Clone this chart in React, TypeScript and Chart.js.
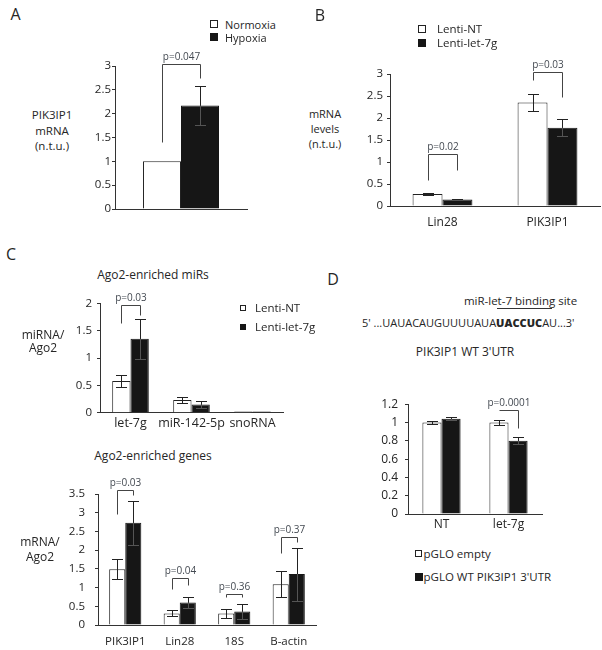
import React, { useEffect, useRef } from "react";
import { Chart, registerables } from "chart.js";

Chart.register(...registerables);

const FONT = "'Open Sans', 'Noto Sans', sans-serif";
const TEXT = "#262626";
const PCOLOR = "#444a52";
const BLACK = "#161616";

// ---------- Panel A ----------
const A_CATEGORIES = [""];
const A_NORMOXIA = [1.0];
const A_NORMOXIA_ERR = [0];
const A_HYPOXIA = [2.17];
const A_HYPOXIA_ERR = [0.41];
const A_TICKS = [0, 0.5, 1, 1.5, 2, 2.5, 3];
const A_PVALUES = [{ cat: 0, label: "p=0.047", top: 3.05, left: 1.4, right: 2.74 }];

// ---------- Panel B ----------
const B_CATEGORIES = ["Lin28", "PIK3IP1"];
const B_NT = [0.27, 2.35];
const B_NT_ERR = [0.02, 0.19];
const B_LET7G = [0.15, 1.78];
const B_LET7G_ERR = [0.02, 0.2];
const B_TICKS = [0, 0.5, 1, 1.5, 2, 2.5, 3];
const B_PVALUES = [
  { cat: 0, label: "p=0.02", top: 1.18, left: 0.59, right: 0.82 },
  { cat: 1, label: "p=0.03", top: 3.05, left: 2.86, right: 2.48 },
];

// ---------- Panel C (miRs) ----------
const C1_CATEGORIES = ["let-7g", "miR-142-5p", "snoRNA"];
const C1_NT = [0.58, 0.23, 0.02];
const C1_NT_ERR = [0.11, 0.05, 0];
const C1_LET7G = [1.35, 0.15, 0.02];
const C1_LET7G_ERR = [0.37, 0.07, 0];
const C1_TICKS = [0, 0.5, 1, 1.5, 2];
const C1_PVALUES = [{ cat: 0, label: "p=0.03", top: 1.96, left: 1.64, right: 1.79 }];

// ---------- Panel C (genes) ----------
const C2_CATEGORIES = ["PIK3IP1", "Lin28", "18S", "B-actin"];
const C2_NT = [1.49, 0.31, 0.31, 1.09];
const C2_NT_ERR = [0.27, 0.08, 0.11, 0.35];
const C2_LET7G = [2.73, 0.6, 0.36, 1.36];
const C2_LET7G_ERR = [0.59, 0.155, 0.19, 0.71];
const C2_TICKS = [0, 0.5, 1, 1.5, 2, 2.5, 3, 3.5];
const C2_PVALUES = [
  { cat: 0, label: "p=0.03", top: 3.61, left: 2.97, right: 3.48 },
  { cat: 1, label: "p=0.04", top: 1.26, left: 0.96, right: 1.07 },
  { cat: 2, label: "p=0.36", top: 0.83, left: 0.75, right: 0.75 },
  { cat: 3, label: "p=0.37", top: 2.36, left: 1.93, right: 2.23 },
];

// ---------- Panel D ----------
const D_CATEGORIES = ["NT", "let-7g"];
const D_EMPTY = [1.0, 1.0];
const D_EMPTY_ERR = [0.02, 0.025];
const D_WT = [1.04, 0.8];
const D_WT_ERR = [0.015, 0.04];
const D_TICKS = [0, 0.2, 0.4, 0.6, 0.8, 1, 1.2];
const D_PVALUES = [{ cat: 1, label: "p=0.0001", top: 1.14, left: 1.14, right: 0.935 }];

// ---------- plugins ----------
const errorBarPlugin = {
  id: "errbars",
  afterDatasetsDraw(chart: any) {
    const { ctx } = chart;
    const yS = chart.scales.y;
    const cap = 5.5;
    chart.data.datasets.forEach((ds: any, di: number) => {
      const meta = chart.getDatasetMeta(di);
      meta.data.forEach((bar: any, i: number) => {
        const e = ds.errors ? ds.errors[i] : 0;
        if (!e) return;
        const v = ds.data[i];
        const yT = Math.round(yS.getPixelForValue(v + e)) + 0.5;
        const yB = Math.round(yS.getPixelForValue(v - e)) + 0.5;
        const x = Math.round(bar.x) + 0.5;
        ctx.save();
        ctx.strokeStyle = di === 1 ? "#555" : "#222";
        ctx.lineWidth = 1;
        ctx.beginPath();
        ctx.moveTo(x, yT);
        ctx.lineTo(x, yB);
        ctx.moveTo(x - cap, yT);
        ctx.lineTo(x + cap, yT);
        ctx.moveTo(x - cap, yB);
        ctx.lineTo(x + cap, yB);
        ctx.stroke();
        if (di === 1) {
          const yBar = yS.getPixelForValue(v);
          ctx.strokeStyle = "#222";
          ctx.beginPath();
          ctx.moveTo(x, yT);
          ctx.lineTo(x, yBar);
          ctx.moveTo(x - cap, yT);
          ctx.lineTo(x + cap, yT);
          ctx.stroke();
        }
        ctx.restore();
      });
    });
  },
};

const bracketPlugin = {
  id: "brackets",
  afterDraw(chart: any, _args: any, opts: any) {
    const items = (opts && opts.items) || [];
    const { ctx } = chart;
    const yS = chart.scales.y;
    const m0 = chart.getDatasetMeta(0);
    const m1 = chart.getDatasetMeta(1);
    ctx.save();
    ctx.strokeStyle = "#444";
    ctx.lineWidth = 1;
    ctx.fillStyle = PCOLOR;
    ctx.font = `10px ${FONT}`;
    ctx.textAlign = "center";
    ctx.textBaseline = "middle";
    for (const b of items) {
      const x0 = Math.round(m0.data[b.cat].x) + 0.5;
      const x1 = Math.round(m1.data[b.cat].x) + 0.5;
      const yt = Math.round(yS.getPixelForValue(b.top)) + 0.5;
      const yl = Math.round(yS.getPixelForValue(b.left)) + 0.5;
      const yr = Math.round(yS.getPixelForValue(b.right)) + 0.5;
      ctx.beginPath();
      ctx.moveTo(x0, yl);
      ctx.lineTo(x0, yt);
      ctx.lineTo(x1, yt);
      ctx.lineTo(x1, yr);
      ctx.stroke();
      ctx.fillText(b.label, (x0 + x1) / 2, yt - 7);
    }
    ctx.restore();
  },
};

type PanelCfg = {
  labels: string[];
  white: number[];
  whiteErr: number[];
  black: number[];
  blackErr: number[];
  ticks: number[];
  brackets: any[];
  area: { l: number; r: number; t: number; b: number };
  axisW: number;
  axisH: number;
  padTop: number;
  padRight: number;
  catPct: number;
  yPad: number;
  xPad: number;
  yFont: number;
  xFont: number;
};

function BarPanel({ cfg }: { cfg: PanelCfg }) {
  const ref = useRef<HTMLCanvasElement>(null);
  const x = cfg.area.l - cfg.axisW;
  const y = Math.floor(cfg.area.t - cfg.padTop);
  const w = Math.ceil(cfg.area.r + cfg.padRight) - x;
  const h = Math.ceil(cfg.area.b + cfg.axisH) - y;
  const padTop = cfg.area.t - y;
  const padRight = x + w - cfg.area.r;
  const axisH = y + h - cfg.area.b;

  useEffect(() => {
    const chart = new Chart(ref.current as HTMLCanvasElement, {
      type: "bar",
      data: {
        labels: cfg.labels,
        datasets: [
          {
            data: cfg.white,
            errors: cfg.whiteErr,
            backgroundColor: "#ffffff",
            borderColor: "#222",
            borderWidth: 1,
            categoryPercentage: cfg.catPct,
            barPercentage: 1,
          } as any,
          {
            data: cfg.black,
            errors: cfg.blackErr,
            backgroundColor: BLACK,
            borderColor: BLACK,
            borderWidth: 1,
            categoryPercentage: cfg.catPct,
            barPercentage: 1,
          } as any,
        ],
      },
      options: {
        responsive: false,
        animation: false,
        devicePixelRatio: 1,
        layout: { padding: { top: padTop, right: padRight, left: 0, bottom: 0 } },
        plugins: {
          legend: { display: false },
          tooltip: { enabled: false },
          brackets: { items: cfg.brackets },
        } as any,
        scales: {
          x: {
            grid: { display: false, drawTicks: false },
            border: { display: true, color: "#333", width: 1 },
            ticks: {
              font: { family: FONT, size: cfg.xFont },
              color: TEXT,
              padding: cfg.xPad,
              maxRotation: 0,
              autoSkip: false,
            },
            afterFit: (s: any) => {
              s.height = axisH;
            },
          },
          y: {
            min: 0,
            max: cfg.ticks[cfg.ticks.length - 1],
            grid: {
              display: true,
              drawOnChartArea: false,
              drawTicks: true,
              tickLength: 3,
              color: "#333",
            },
            border: { display: true, color: "#333", width: 1 },
            ticks: {
              font: { family: FONT, size: cfg.yFont },
              color: TEXT,
              padding: cfg.yPad,
              callback: (v: any) => String(v),
            },
            afterBuildTicks: (s: any) => {
              s.ticks = cfg.ticks.map((v) => ({ value: v }));
            },
            afterFit: (s: any) => {
              s.width = cfg.axisW;
            },
          },
        },
      },
      plugins: [errorBarPlugin, bracketPlugin],
    } as any);
    return () => chart.destroy();
  }, []);

  return (
    <canvas
      ref={ref}
      width={w}
      height={h}
      style={{ position: "absolute", left: x, top: y, width: w, height: h }}
    />
  );
}

function Txt(props: {
  x: number;
  y: number;
  size: number;
  align?: "left" | "center" | "right";
  weight?: number;
  color?: string;
  children: React.ReactNode;
}) {
  const { x, y, size, align = "center", weight = 400, color = TEXT, children } = props;
  const tx = align === "center" ? "-50%" : align === "right" ? "-100%" : "0";
  return (
    <div
      style={{
        position: "absolute",
        left: x,
        top: y,
        transform: `translate(${tx}, -50%)`,
        fontFamily: FONT,
        fontSize: size,
        lineHeight: 1,
        whiteSpace: "nowrap",
        color,
        fontWeight: weight,
      }}
    >
      {children}
    </div>
  );
}

function Sq(props: { x: number; y: number; s: number; filled: boolean }) {
  const { x, y, s, filled } = props;
  return (
    <div
      style={{
        position: "absolute",
        left: x,
        top: y,
        width: s,
        height: s,
        boxSizing: "border-box",
        border: `1px solid ${filled ? BLACK : "#222"}`,
        background: filled ? BLACK : "#fff",
      }}
    />
  );
}

const panelA: PanelCfg = {
  labels: A_CATEGORIES,
  white: A_NORMOXIA,
  whiteErr: A_NORMOXIA_ERR,
  black: A_HYPOXIA,
  blackErr: A_HYPOXIA_ERR,
  ticks: A_TICKS,
  brackets: A_PVALUES,
  area: { l: 115, r: 247, t: 66, b: 209 },
  axisW: 40,
  axisH: 10,
  padTop: 25,
  padRight: 4,
  catPct: 0.576,
  yPad: 1,
  xPad: 3,
  yFont: 11.5,
  xFont: 12,
};

const panelB: PanelCfg = {
  labels: B_CATEGORIES,
  white: B_NT,
  whiteErr: B_NT_ERR,
  black: B_LET7G,
  blackErr: B_LET7G_ERR,
  ticks: B_TICKS,
  brackets: B_PVALUES,
  area: { l: 390, r: 600, t: 74, b: 206 },
  axisW: 40,
  axisH: 30,
  padTop: 24,
  padRight: 2,
  catPct: 0.57,
  yPad: 4,
  xPad: 9,
  yFont: 11.5,
  xFont: 12,
};

const panelC1: PanelCfg = {
  labels: C1_CATEGORIES,
  white: C1_NT,
  whiteErr: C1_NT_ERR,
  black: C1_LET7G,
  blackErr: C1_LET7G_ERR,
  ticks: C1_TICKS,
  brackets: C1_PVALUES,
  area: { l: 100, r: 283, t: 303.3, b: 412.7 },
  axisW: 40,
  axisH: 22,
  padTop: 15,
  padRight: 6,
  catPct: 0.6,
  yPad: 5,
  xPad: 3,
  yFont: 11.5,
  xFont: 12.5,
};

const panelC2: PanelCfg = {
  labels: C2_CATEGORIES,
  white: C2_NT,
  whiteErr: C2_NT_ERR,
  black: C2_LET7G,
  blackErr: C2_LET7G_ERR,
  ticks: C2_TICKS,
  brackets: C2_PVALUES,
  area: { l: 98, r: 316, t: 494, b: 625 },
  axisW: 40,
  axisH: 25,
  padTop: 20,
  padRight: 4,
  catPct: 0.59,
  yPad: 10,
  xPad: 10,
  yFont: 11.5,
  xFont: 11.5,
};

const panelD: PanelCfg = {
  labels: D_CATEGORIES,
  white: D_EMPTY,
  whiteErr: D_EMPTY_ERR,
  black: D_WT,
  blackErr: D_WT_ERR,
  ticks: D_TICKS,
  brackets: D_PVALUES,
  area: { l: 408, r: 542, t: 404, b: 514 },
  axisW: 40,
  axisH: 26,
  padTop: 14,
  padRight: 4,
  catPct: 0.57,
  yPad: 7,
  xPad: 3,
  yFont: 12,
  xFont: 12,
};

export default function App() {
  return (
    <div
      style={{
        position: "absolute",
        left: 0,
        top: 0,
        width: 602,
        height: 650,
        background: "#fff",
        overflow: "hidden",
      }}
    >
      <BarPanel cfg={panelA} />
      <BarPanel cfg={panelB} />
      <BarPanel cfg={panelC1} />
      <BarPanel cfg={panelC2} />
      <BarPanel cfg={panelD} />

      {/* Panel A */}
      <Txt x={15.5} y={14} size={16}>A</Txt>
      <Sq x={210} y={20} s={8} filled={false} />
      <Txt x={225} y={24} size={11} align="left">Normoxia</Txt>
      <Sq x={210} y={33} s={8} filled={true} />
      <Txt x={225} y={37} size={11} align="left">Hypoxia</Txt>
      <Txt x={52} y={115} size={11.5}>PIK3IP1</Txt>
      <Txt x={52} y={131} size={11.5}>mRNA</Txt>
      <Txt x={52} y={146} size={11.5}>(n.t.u.)</Txt>

      {/* Panel B */}
      <Txt x={320} y={15} size={16}>B</Txt>
      <Sq x={418} y={25} s={8} filled={false} />
      <Txt x={437} y={29} size={11.5} align="left">Lenti-NT</Txt>
      <Sq x={418} y={39} s={8} filled={true} />
      <Txt x={437} y={43} size={11.5} align="left">Lenti-let-7g</Txt>
      <Txt x={325} y={113} size={11}>mRNA</Txt>
      <Txt x={325} y={128} size={11}>levels</Txt>
      <Txt x={325} y={143} size={11}>(n.t.u.)</Txt>

      {/* Panel C */}
      <Txt x={11} y={254} size={16}>C</Txt>
      <Txt x={153} y={275} size={12}>Ago2-enriched miRs</Txt>
      <Sq x={240} y={305} s={6} filled={false} />
      <Txt x={255} y={308} size={11.5} align="left">Lenti-NT</Txt>
      <Sq x={240} y={324} s={6} filled={true} />
      <Txt x={255} y={327} size={11.5} align="left">Lenti-let-7g</Txt>
      <Txt x={43} y={335} size={12}>miRNA/</Txt>
      <Txt x={43} y={348} size={12}>Ago2</Txt>
      <Txt x={153} y={456} size={12}>Ago2-enriched genes</Txt>
      <Txt x={40} y={542} size={12}>mRNA/</Txt>
      <Txt x={40} y={557} size={12}>Ago2</Txt>

      {/* Panel D */}
      <Txt x={333} y={279} size={16}>D</Txt>
      <Txt x={520.5} y={301} size={11.5}>miR-let-7 binding site</Txt>
      <div
        style={{
          position: "absolute",
          left: 497,
          top: 308,
          width: 55,
          height: 1,
          background: "#333",
        }}
      />
      <Txt x={362} y={322} size={11} align="left">
        5' ...UAUACAUGUUUUAUA<span style={{ fontWeight: 800 }}>UACCUC</span>AU...3'
      </Txt>
      <Txt x={465} y={352} size={12}>PIK3IP1 WT 3'UTR</Txt>
      <Sq x={415} y={550} s={7} filled={false} />
      <Txt x={423.5} y={554} size={11.5} align="left">pGLO empty</Txt>
      <Sq x={415} y={573} s={8} filled={true} />
      <Txt x={423.5} y={577} size={11.5} align="left">pGLO WT PIK3IP1 3'UTR</Txt>
    </div>
  );
}
